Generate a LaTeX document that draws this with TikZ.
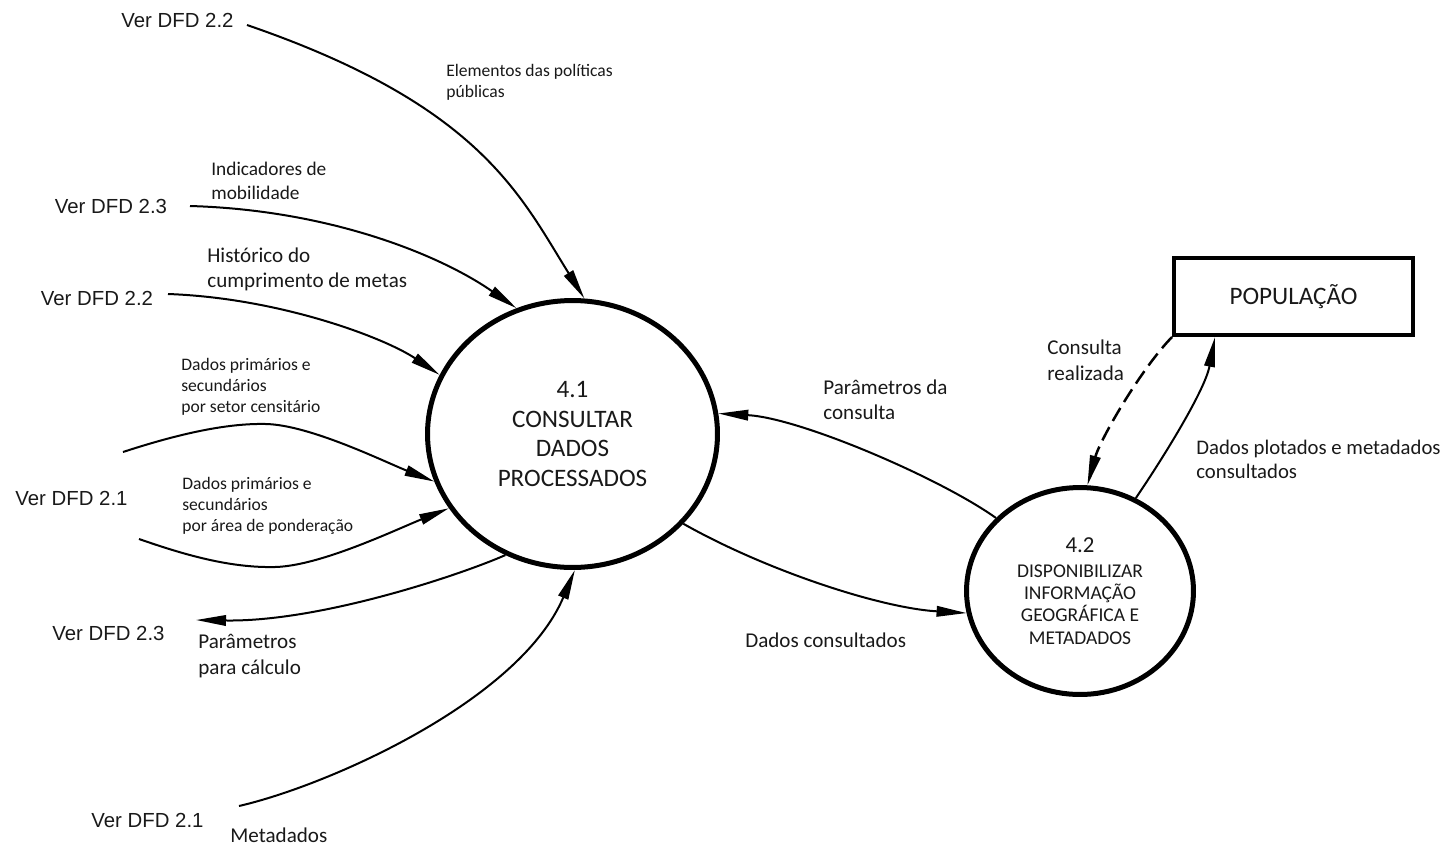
\documentclass[tikz,border=0pt]{standalone}
\usepackage{fontspec}
\setmainfont{Carlito}
\newfontfamily\arialfont{Liberation Sans}
\usetikzlibrary{arrows.meta,shapes.geometric,calc}
\definecolor{ink}{RGB}{25,25,25}

\begin{document}
\begin{tikzpicture}[x=0.02cm,y=-0.02cm,
  ext/.style={font=\arialfont\fontsize{11.6}{14}\selectfont, text=ink, inner sep=0pt, anchor=center},
  lbls/.style={font=\fontsize{10}{11.9}\selectfont, text=ink, inner sep=0pt, align=left, anchor=west},
  lblm/.style={font=\fontsize{12}{14.2}\selectfont, text=ink, inner sep=0pt, align=left, anchor=west},
  proc/.style={ellipse, draw=black, line width=0.1cm, inner sep=0pt, outer sep=0.05cm, align=center, text=ink},
  flow/.style={draw=black, line width=0.04cm, -{Triangle[length=0.6cm,width=0.21cm]}},
  query/.style={flow, line width=0.05cm, dash pattern=on 0.3cm off 0.14cm}
]
\useasboundingbox (0,0) rectangle (1450,849);

% processes and external entity
\node[proc, minimum width=5.8cm, minimum height=5.34cm,
      font=\fontsize{14.3}{16.7}\selectfont] (c41) at (572.5,434)
  {4.1\\CONSULTAR\\DADOS\\PROCESSADOS};
\node[proc, minimum width=4.54cm, minimum height=4.14cm,
      font=\fontsize{11.1}{12.6}\selectfont] (c42) at (1080,591)
  {{\fontsize{13}{15}\selectfont 4.2}\\[1.6pt]DISPONIBILIZAR\\INFORMAÇÃO\\GEOGRÁFICA E\\METADADOS};
\node[draw=black, line width=0.08cm, outer sep=0.04cm, inner sep=0pt,
      minimum width=4.78cm, minimum height=1.54cm, text=ink,
      font=\fontsize{14.3}{16}\selectfont] (pop) at (1293.5,296.5) {POPULAÇÃO};

% references to other diagrams
\node[ext] (v22a) at (177.5,20) {Ver DFD 2.2};
\node[ext] (v23a) at (111,206) {Ver DFD 2.3};
\node[ext] (v22b) at (97,298) {Ver DFD 2.2};
\node[ext] (v21a) at (71.5,498) {Ver DFD 2.1};
\node[ext] (v23b) at (108.5,633) {Ver DFD 2.3};
\node[ext] (v21b) at (147.5,820) {Ver DFD 2.1};

% flow labels
\node[lbls] (l1) at (446,82.5) {Elementos das políticas\\públicas};
\node[lblm, font=\fontsize{11}{13.6}\selectfont] (l2) at (211,181) {Indicadores de\\mobilidade};
\node[lblm] (l3) at (207,269.5) {Histórico do\\cumprimento de metas};
\node[lbls] (l4) at (181,387) {Dados primários e\\secundários\\por setor censitário};
\node[lbls] (l5) at (182,506) {Dados primários e\\secundários\\por área de ponderação};
\node[lblm, font=\fontsize{12}{14.7}\selectfont] (l6) at (198,656) {Parâmetros\\para cálculo};
\node[lblm] (l7) at (230,835) {Metadados};
\node[lblm] (l8) at (745,640) {Dados consultados};
\node[lblm] (l9) at (823,399.5) {Parâmetros da\\consulta};
\node[lblm, font=\fontsize{12}{14.7}\selectfont] (l10) at (1047,360) {Consulta\\realizada};
\node[lblm, font=\fontsize{11.8}{13.6}\selectfont] (l11) at (1196,459) {Dados plotados e metadados\\consultados};

% free ends of the flows
\coordinate (s1) at (247,25);
\coordinate (s2) at (190,206);
\coordinate (s3) at (168,294);
\coordinate (s4) at (123,452);
\coordinate (s5) at (139,539);
\coordinate (e6) at (196,620);
\coordinate (s7) at (239,806);
\coordinate (e11) at ($(pop.south west)!0.177!(pop.south east)$);

% data flows
\draw[flow] (s1) .. controls (480,105) and (520,195) .. (c41.85);
\draw[flow] (s2) .. controls (330,210) and (440,255) .. (c41.114);
\draw[flow] (s3) .. controls (280,298) and (385,338) .. (c41.156);
\draw[flow] (s4) .. controls (175,435) and (225,423) .. (266,424)
                 .. controls (310,425) and (385,462) .. (c41.199);
\draw[flow] (s5) .. controls (185,555) and (230,568) .. (275,567)
                 .. controls (320,566) and (395,530) .. (c41.211);
\draw[flow] (c41.241) .. controls (460,575) and (320,622) .. (e6);
\draw[flow] (s7) .. controls (330,785) and (520,700) .. (c41.271);
\draw[flow] (c41.321) .. controls (765,570) and (880,608) .. (c42.191);
\draw[flow] (c42.139) .. controls (940,478) and (800,418) .. (c41.8);
\draw[query] (pop.south west) .. controls (1140,370) and (1100,440) .. (c42.86);
\draw[flow] (c42.59) .. controls (1165,455) and (1205,390) .. (e11);
\end{tikzpicture}
\end{document}
